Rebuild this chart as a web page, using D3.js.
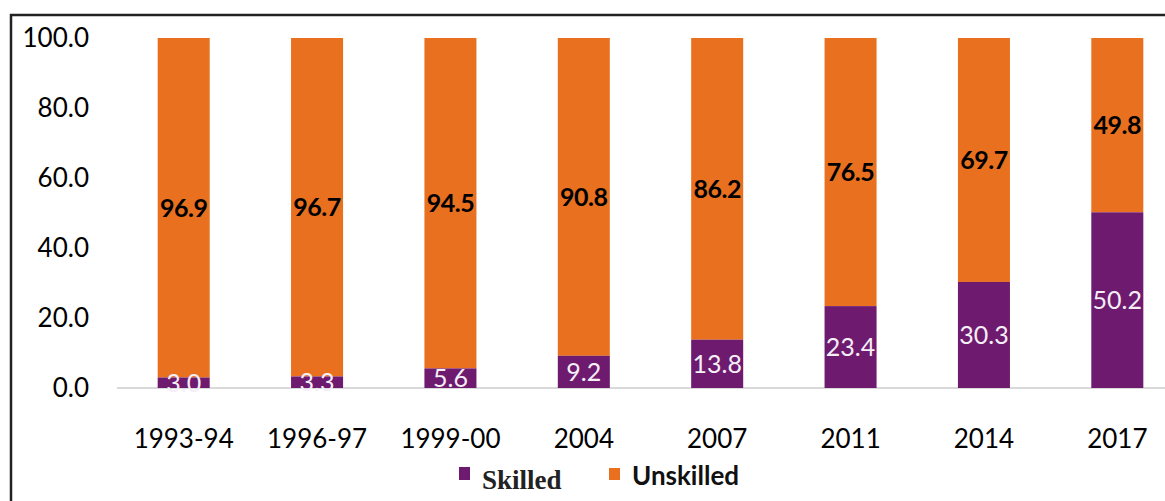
<!DOCTYPE html>
<html><head><meta charset="utf-8">
<script src="https://cdn.jsdelivr.net/npm/d3@7"></script>
<style>body{margin:0;background:#fff}svg{display:block}</style>
</head><body>
<svg id="c" width="1165" height="501"></svg>
<script>
const categories = ["1993-94","1996-97","1999-00","2004","2007","2011","2014","2017"];
const skilled = [3.0,3.3,5.6,9.2,13.8,23.4,30.3,50.2];
const unskilled = [96.9,96.7,94.5,90.8,86.2,76.5,69.7,49.8];
const yTicks = [0,20,40,60,80,100];
const seriesNames = ["Skilled","Unskilled"];

const svg = d3.select("#c");
const purple = "#6e1a6e", orange = "#e8701f";
const font = "Lato, 'Open Sans', sans-serif";

// frame
svg.append("rect").attr("x",11).attr("y",15).attr("width",1200).attr("height",520)
  .attr("fill","none").attr("stroke","#222").attr("stroke-width",2.5);

const x = d3.scaleBand().domain(categories).range([117,1184]).paddingInner(0.61).paddingOuter(0.305);
const y = d3.scaleLinear().domain([0,100]).range([388,38]);

// y axis labels
const ya = svg.append("g").attr("transform","translate(89,0)")
  .call(d3.axisLeft(y).tickValues(yTicks).tickFormat(d3.format(".1f")).tickSize(0).tickPadding(0));
ya.select(".domain").remove();
ya.selectAll("text").attr("font-size",26).attr("font-family",font).attr("fill","#000");

// baseline
svg.append("line").attr("x1",117).attr("x2",1165).attr("y1",y(0)).attr("y2",y(0))
  .attr("stroke","#d9d9d9").attr("stroke-width",2);

const data = categories.map((c,i)=>({c, s:skilled[i], u:unskilled[i]}));

svg.selectAll(".u").data(data).join("rect")
  .attr("x",d=>x(d.c)).attr("width",x.bandwidth())
  .attr("y",y(100)).attr("height",d=>y(d.s)-y(100)).attr("fill",orange);
svg.selectAll(".s").data(data).join("rect")
  .attr("x",d=>x(d.c)).attr("width",x.bandwidth())
  .attr("y",d=>y(d.s)).attr("height",d=>y(0)-y(d.s)).attr("fill",purple);

// labels
svg.selectAll(".ul").data(data).join("text")
  .attr("x",d=>x(d.c)+x.bandwidth()/2).attr("y",d=>y(d.s+(100-d.s)/2))
  .attr("dy","0.35em").attr("text-anchor","middle")
  .attr("font-family",font).attr("font-weight","bold").attr("font-size",25).attr("fill","#000")
  .attr("letter-spacing",-0.5)
  .text(d=>d.u.toFixed(1));
svg.selectAll(".sl").data(data).join("text")
  .attr("x",d=>x(d.c)+x.bandwidth()/2).attr("y",d=>y(d.s/2))
  .attr("dy","0.35em").attr("text-anchor","middle")
  .attr("font-family",font).attr("font-size",25).attr("fill","#f4eef6")
  .text(d=>d.s.toFixed(1));

// x axis labels
const xa = svg.append("g").attr("transform","translate(0,439)")
  .call(d3.axisBottom(x).tickSize(0).tickPadding(0));
xa.select(".domain").remove();
xa.selectAll("text").attr("font-size",26).attr("font-family",font).attr("fill","#000").attr("dy","0.35em");

// legend
const leg = svg.append("g");
leg.append("rect").attr("x",459).attr("y",467).attr("width",11).attr("height",13).attr("fill",purple);
leg.append("text").attr("x",482).attr("y",489).attr("font-family","'Liberation Serif', serif")
  .attr("font-weight","bold").attr("font-size",27).attr("fill","#222").text(seriesNames[0]);
leg.append("rect").attr("x",609).attr("y",468).attr("width",11).attr("height",12).attr("fill",orange);
leg.append("text").attr("x",632).attr("y",485).attr("font-family",font)
  .attr("font-weight","bold").attr("font-size",26).attr("fill","#111").text(seriesNames[1]);
</script>
</body></html>
